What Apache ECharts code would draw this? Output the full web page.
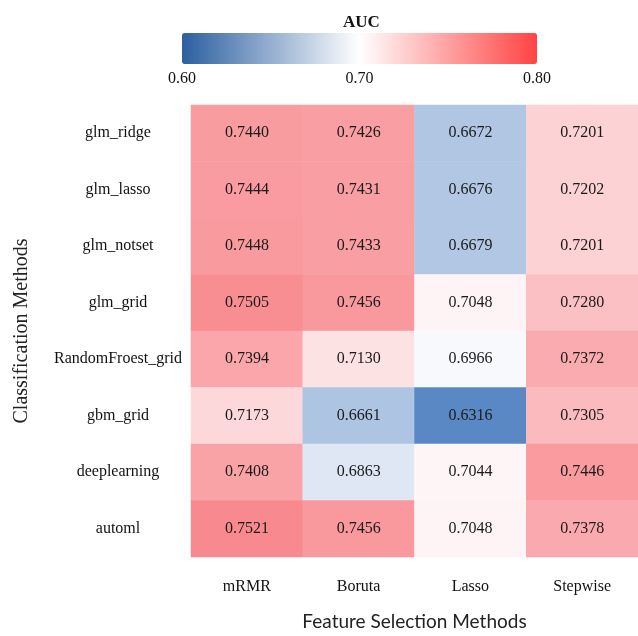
<!DOCTYPE html>
<html>
<head>
<meta charset="utf-8">
<script src="https://cdn.jsdelivr.net/npm/echarts@6/dist/echarts.min.js"></script>
<style>
  html, body { margin: 0; padding: 0; background: #fff; }
  #main { width: 638px; height: 636px; }
</style>
</head>
<body>
<div id="main"></div>
<script>
// feature selection methods (columns)
var featureMethods = ['mRMR', 'Boruta', 'Lasso', 'Stepwise'];
// classification methods (rows, top to bottom)
var classMethods = ['glm_ridge', 'glm_lasso', 'glm_notset', 'glm_grid',
    'RandomFroest_grid', 'gbm_grid', 'deeplearning', 'automl'];

// AUC per feature selection method, in row order
var aucMRMR     = [0.7440, 0.7444, 0.7448, 0.7505, 0.7394, 0.7173, 0.7408, 0.7521];
var aucBoruta   = [0.7426, 0.7431, 0.7433, 0.7456, 0.7130, 0.6661, 0.6863, 0.7456];
var aucLasso    = [0.6672, 0.6676, 0.6679, 0.7048, 0.6966, 0.6316, 0.7044, 0.7048];
var aucStepwise = [0.7201, 0.7202, 0.7201, 0.7280, 0.7372, 0.7305, 0.7446, 0.7378];

// colour bar ticks
var barTicks = [0.60, 0.70, 0.80];

var columns = [aucMRMR, aucBoruta, aucLasso, aucStepwise];
var cells = [];
columns.forEach(function (col, ci) {
    col.forEach(function (v, ri) {
        cells.push([ci, ri, v]);
    });
});

var serif = 'Liberation Serif';

var myChart = echarts.init(document.getElementById('main'));
var option = {
    backgroundColor: '#ffffff',
    animation: false,
    graphic: [{
        type: 'text',
        left: 343, top: 14,
        style: { text: 'AUC', font: 'bold 17px "Liberation Serif"', fill: '#111' }
    }],
    grid: [
        { left: 191, right: 0, top: 105, bottom: 78 },
        // axis under the colour bar
        { left: 182, width: 355, top: 40, height: 24 }
    ],
    xAxis: [{
        type: 'category',
        gridIndex: 0,
        data: featureMethods,
        position: 'bottom',
        axisLine: { show: false },
        axisTick: { show: false },
        splitArea: { show: false },
        axisLabel: { margin: 22, fontFamily: serif, fontSize: 16, color: '#111' },
        name: 'Feature Selection Methods',
        nameLocation: 'middle',
        nameGap: 55,
        nameTextStyle: { fontFamily: 'Lato', fontSize: 19, color: '#222' }
    }, {
        type: 'value',
        gridIndex: 1,
        min: barTicks[0],
        max: barTicks[barTicks.length - 1],
        interval: 0.1,
        axisLine: { show: false },
        axisTick: { show: false },
        splitLine: { show: false },
        axisLabel: {
            margin: 7, fontFamily: serif, fontSize: 16, color: '#111',
            formatter: function (v) { return v.toFixed(2); }
        }
    }],
    yAxis: [{
        type: 'category',
        gridIndex: 0,
        data: classMethods,
        inverse: true,
        axisLine: { show: false },
        axisTick: { show: false },
        splitArea: { show: false },
        axisLabel: { margin: 73, align: 'center', fontFamily: serif, fontSize: 16, color: '#111' },
        name: 'Classification Methods',
        nameLocation: 'middle',
        nameGap: 159,
        nameTextStyle: { fontFamily: serif, fontSize: 20, color: '#222' }
    }, {
        type: 'value',
        gridIndex: 1,
        show: false
    }],
    visualMap: [{
        // heat colours of the cells
        type: 'continuous',
        show: false,
        seriesIndex: 0,
        min: 0.6,
        max: 0.8,
        inRange: { color: ['#0e51a9', '#ffffff', '#f21e28'] }
    }, {
        // colour bar shown at the top
        type: 'continuous',
        show: true,
        seriesIndex: 1,
        min: 0.6,
        max: 0.8,
        orient: 'horizontal',
        left: 182,
        top: 33,
        padding: 0,
        itemWidth: 31,
        itemHeight: 355,
        calculable: false,
        text: null,
        showLabel: false,
        inRange: { color: ['#2b5fa0', '#ffffff', '#ff4343'] }
    }],
    series: [{
        type: 'heatmap',
        xAxisIndex: 0,
        yAxisIndex: 0,
        data: cells,
        label: {
            show: true,
            fontFamily: serif,
            fontSize: 16,
            color: '#1a1a1a',
            formatter: function (p) { return p.value[2].toFixed(4); }
        },
        itemStyle: { borderWidth: 0 },
        emphasis: { disabled: true }
    }, {
        type: 'scatter',
        xAxisIndex: 1,
        yAxisIndex: 1,
        data: []
    }]
};
myChart.setOption(option);
</script>
</body>
</html>
